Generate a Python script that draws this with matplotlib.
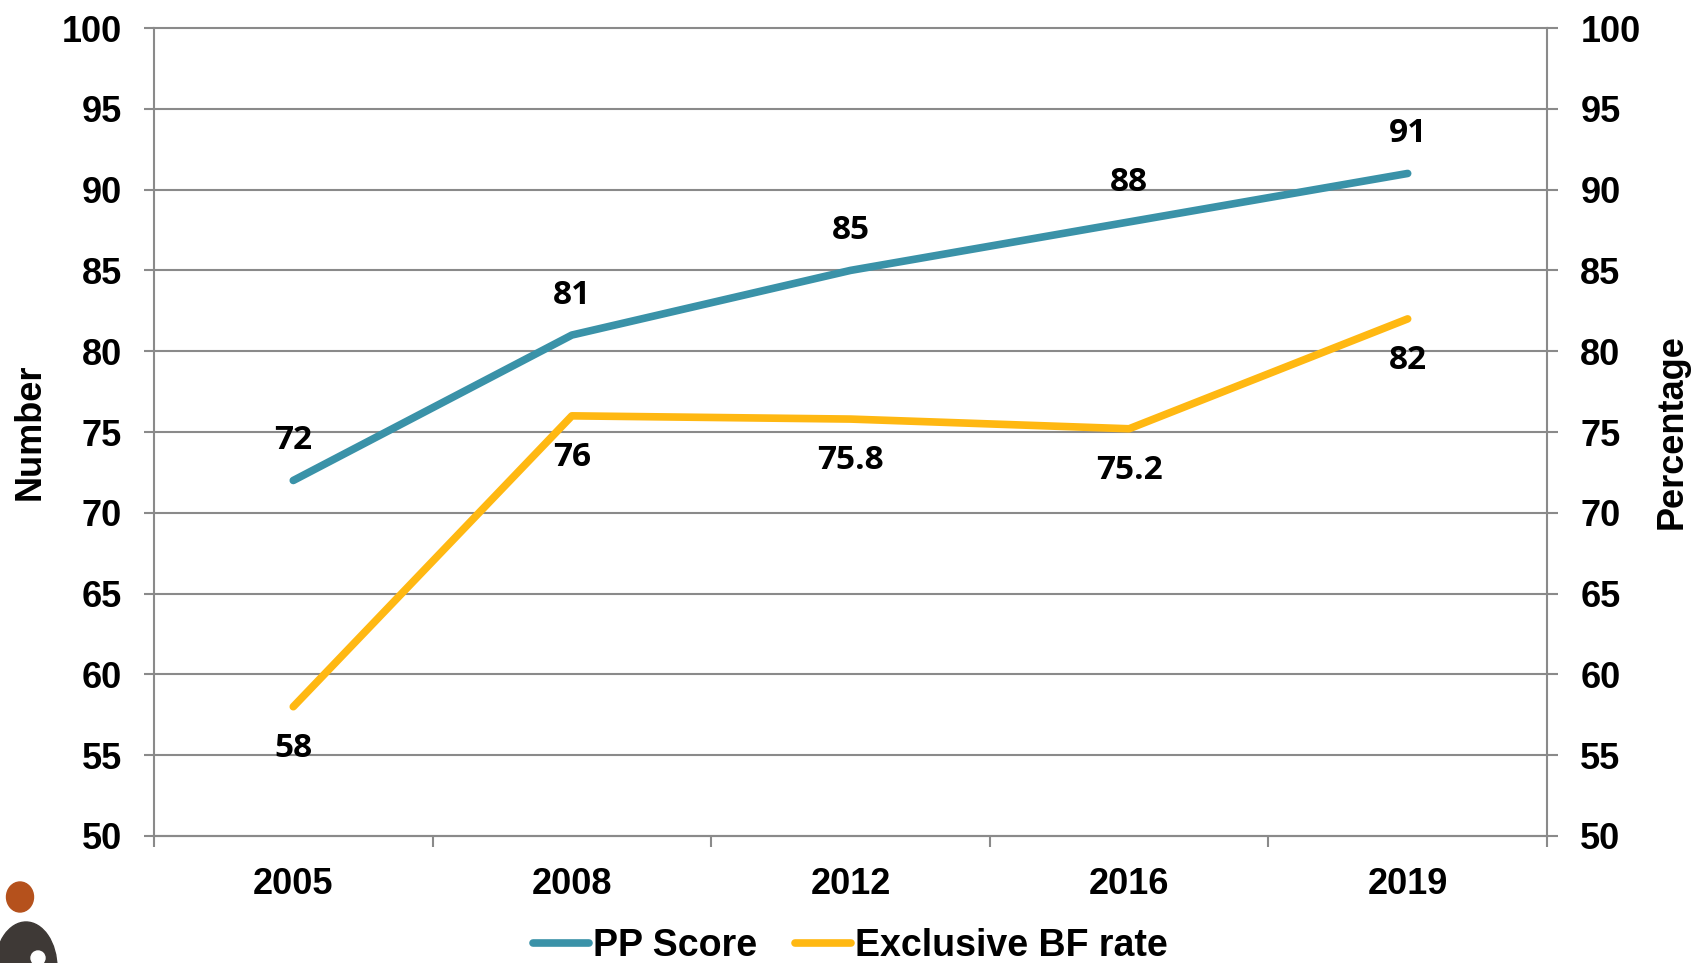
import numpy as np
import matplotlib.pyplot as plt
from matplotlib.patches import Ellipse

# data
years = ['2005', '2008', '2012', '2016', '2019']
pp_score = [72, 81, 85, 88, 91]
bf_rate = [58, 76, 75.8, 75.2, 82]
pp_labels = ['72', '81', '85', '88', '91']
bf_labels = ['58', '76', '75.8', '75.2', '82']
yticks = [50, 55, 60, 65, 70, 75, 80, 85, 90, 95, 100]

teal = '#3A92A8'
gold = '#FFB812'
grey = '#8A8A8A'

plt.rcParams['font.family'] = ['Liberation Sans', 'DejaVu Sans']
plt.rcParams['font.weight'] = 'bold'

fig = plt.figure(figsize=(16.94, 9.63), dpi=100)
ax = fig.add_axes([0.0909, 0.1319, 0.8223, 0.839])
ax2 = ax.twinx()

x = np.arange(len(years))

# PP score (left axis)
ax.plot(x, pp_score, color=teal, lw=5.5, solid_capstyle='round', label='PP Score', zorder=3)
# Exclusive BF (right axis)
ax2.plot(x, bf_rate, color=gold, lw=5.5, solid_capstyle='round', label='Exclusive BF rate', zorder=3)

for xi, v, s in zip(x, pp_score, pp_labels):
    ax.annotate(s, (xi, v), xytext=(0, 28.5), textcoords='offset points',
                ha='center', va='center', fontsize=24, fontweight='bold', family='Open Sans')
for xi, v, s in zip(x, bf_rate, bf_labels):
    ax2.annotate(s, (xi, v), xytext=(0, -30), textcoords='offset points',
                 ha='center', va='center', fontsize=24, fontweight='bold', family='Open Sans')

for a in (ax, ax2):
    a.set_ylim(50, 100)
    a.set_yticks(yticks)
    a.set_xlim(-0.5, len(years) - 0.5)

ax.set_xticks(x)
ax.set_xticklabels(years)
ax.set_xticks(np.arange(-0.5, len(years)), minor=True)
ax.tick_params(axis='x', which='major', length=0, pad=22, labelsize=26)
ax.tick_params(axis='x', which='minor', length=8, width=1.5, color=grey, direction='out')
ax.tick_params(axis='y', length=7, width=1.5, color=grey, pad=16, labelsize=26)
ax2.tick_params(axis='y', length=8, width=1.5, color=grey, pad=16, labelsize=26)

ax.yaxis.grid(True, color=grey, lw=1.5)
for gl in ax.get_ygridlines():
    gl.set_clip_on(False)
ax.set_axisbelow(True)

for s in ['top', 'right']:
    ax.spines[s].set_visible(False)
for s in ['top', 'left', 'bottom']:
    ax2.spines[s].set_visible(False)
ax.spines['left'].set_color(grey)
ax.spines['left'].set_linewidth(1.5)
ax.spines['bottom'].set_color(grey)
ax.spines['bottom'].set_linewidth(1.5)
ax2.spines['right'].set_color(grey)
ax2.spines['right'].set_linewidth(1.5)

fig.text(30 / 1694, 1 - 432 / 963, 'Number', rotation=90, ha='center', va='center',
         fontsize=26, fontweight='bold')
fig.text(1672 / 1694, 1 - 432 / 963, 'Percentage', rotation=90, ha='center', va='center',
         fontsize=26, fontweight='bold')

h1, l1 = ax.get_legend_handles_labels()
h2, l2 = ax2.get_legend_handles_labels()
fig.legend(h1 + h2, l1 + l2, loc='center', bbox_to_anchor=(0.502, 1 - 946 / 963), ncol=2,
           frameon=False, fontsize=27, handlelength=1.5, handletextpad=0.1,
           columnspacing=1.0)

# little logo in the bottom-left corner
W, H = 1694, 963
fig.patches.append(Ellipse((20 / W, 1 - 897 / H), 27 / W, 30 / H, transform=fig.transFigure,
                           color='#B5511C', figure=fig))
fig.patches.append(Ellipse((26 / W, 1 - 968 / H), 62 / W, 92 / H, transform=fig.transFigure,
                           color='#3E3936', figure=fig))
fig.patches.append(Ellipse((38 / W, 1 - 958 / H), 14 / W, 14 / H, transform=fig.transFigure,
                           color='white', figure=fig))

plt.savefig('out.png', dpi=100)
